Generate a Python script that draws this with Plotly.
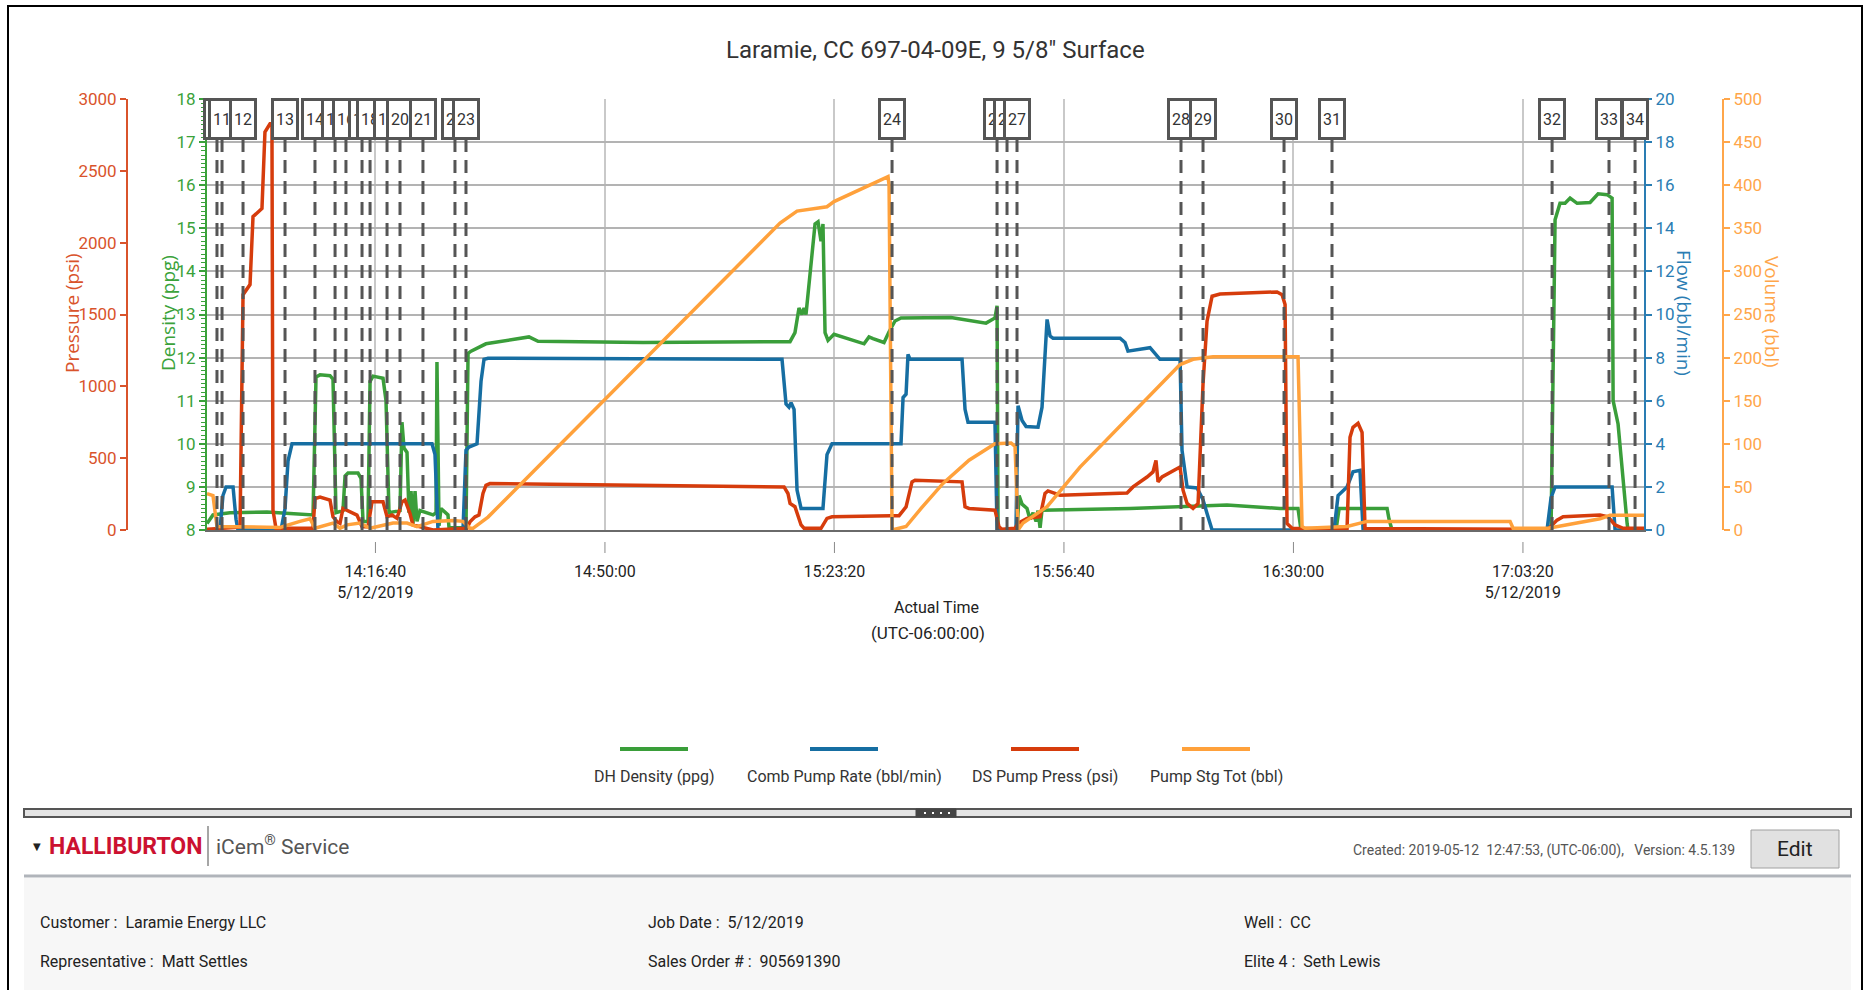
import plotly.graph_objects as go
import pandas as pd

DATE = "2019-05-12 "

# ---------------- data ----------------
density_t = ["13:52:12","13:53:04","13:55:32","14:00:55","14:04:15","14:07:10","14:07:36","14:08:02","14:08:37","14:10:04",
             "14:10:30","14:10:56","14:11:57","14:12:15","14:12:41","14:14:08","14:14:34","14:14:52","14:15:35","14:15:53",
             "14:16:19","14:17:46","14:18:12","14:18:38","14:20:14","14:20:31","14:20:49","14:21:15","14:21:32","14:21:50",
             "14:22:07","14:22:25","14:22:42","14:23:08","14:25:02","14:25:28","14:25:36","14:25:54","14:26:11","14:27:12",
             "14:27:21","14:29:49","14:30:07","14:30:33","14:32:43","14:38:58","14:40:17","14:55:32","15:16:53","15:17:36",
             "15:18:11","15:18:37","15:18:55","15:19:12","15:19:47","15:20:31","15:20:57","15:21:06","15:21:23","15:21:40",
             "15:21:58","15:22:24","15:23:16","15:27:38","15:28:21","15:28:56","15:30:32","15:31:16","15:32:08","15:33:00",
             "15:40:16","15:45:21","15:46:39","15:46:57","15:47:06","15:49:51","15:50:09","15:50:35","15:51:18","15:51:44",
             "15:52:11","15:52:37","15:52:54","15:53:12","15:53:29","16:06:16","16:20:21","16:28:03","16:30:40","16:31:06",
             "16:36:11","16:36:38","16:43:36","16:43:53","16:44:19","17:07:25","17:08:00","17:08:43","17:09:27","17:10:11",
             "17:11:12","17:13:05","17:14:15","17:15:33","17:16:17","17:16:26","17:17:09","17:18:28","17:18:36","17:20:56"]
density_v = [8.15,8.35,8.40,8.42,8.38,8.35,8.35,11.55,11.60,11.58,
             11.50,8.40,8.45,9.25,9.32,9.32,9.20,8.20,8.20,11.45,
             11.57,11.52,11.00,8.40,8.45,10.50,9.90,9.80,8.40,8.90,
             8.15,8.90,8.20,8.45,8.35,8.40,11.90,8.10,8.50,8.35,
             8.05,8.05,12.10,12.15,12.32,12.48,12.38,12.35,12.37,12.58,
             13.15,13.00,13.15,13.00,14.00,15.10,15.15,15.00,14.70,15.10,
             12.58,12.40,12.54,12.32,12.48,12.44,12.35,12.60,12.85,12.92,
             12.93,12.80,12.92,13.20,8.00,8.00,8.80,8.60,8.50,8.25,
             8.40,8.20,8.45,8.05,8.46,8.50,8.58,8.50,8.50,8.00,
             8.00,8.50,8.50,8.25,8.00,8.00,15.20,15.58,15.58,15.70,
             15.58,15.60,15.80,15.78,15.70,11.00,10.46,8.15,8.00,8.00]

rate_t = ["13:52:12","13:54:05","13:54:31","13:54:58","13:55:59","13:56:25","13:56:42","14:02:57","14:03:32","14:03:58",
          "14:04:33","14:24:53","14:25:19","14:25:45","14:29:23","14:29:49","14:30:15","14:31:25","14:32:00","14:32:26",
          "14:33:01","15:15:43","15:16:18","15:16:44","15:17:02","15:17:28","15:17:54","15:18:29","15:21:40","15:22:15",
          "15:22:59","15:33:00","15:33:18","15:33:44","15:34:01","15:34:19","15:41:52","15:42:18","15:42:44","15:46:39",
          "15:46:57","15:49:42","15:50:00","15:50:35","15:51:10","15:52:54","15:53:29","15:54:13","15:54:39","15:55:05",
          "16:04:49","16:05:32","16:05:58","16:09:10","16:10:37","16:13:32","16:13:49","16:14:33","16:16:00","16:16:52",
          "16:17:27","16:18:11","16:35:54","16:36:29","16:37:47","16:38:39","16:39:40","16:40:07","17:06:50","17:07:25",
          "17:08:00","17:16:17","17:16:43","17:20:56"]
rate_v = [0,0,1.6,2.0,2.0,0.5,0,0,1.0,3.2,
          4.0,4.0,3.5,0,0,3.7,3.85,4.0,6.9,7.92,
          7.97,7.92,5.85,5.70,5.90,5.60,1.85,1.00,1.00,3.50,
          4.00,4.00,6.15,6.30,8.15,7.92,7.92,5.60,5.00,5.00,
          0,0,5.77,5.08,4.80,4.77,5.70,9.77,9.00,8.90,
          8.90,8.70,8.30,8.46,7.92,7.92,3.70,2.00,1.95,1.40,
          0.77,0,0,1.60,2.00,2.70,2.77,0,0,1.50,
          2.00,2.00,0,0]

press_t = ["13:52:12","13:57:00","13:57:26","13:58:01","13:58:27","13:58:53","14:00:11","14:00:37","14:01:21","14:01:38",
           "14:01:47","14:02:13","14:07:36","14:07:53","14:08:37","14:10:04","14:10:30","14:11:05","14:11:31","14:11:57",
           "14:12:32","14:13:59","14:14:43","14:15:35","14:16:10","14:17:46","14:18:21","14:19:04","14:19:48","14:20:31",
           "14:20:58","14:21:41","14:22:07","14:25:02","14:29:58","14:30:24","14:31:08","14:31:42","14:32:17","14:32:43",
           "14:33:18","15:16:01","15:16:35","15:16:53","15:17:36","15:18:29","15:18:55","15:21:23","15:22:15","15:22:59",
           "15:31:33","15:32:43","15:33:44","15:34:36","15:35:02","15:41:52","15:42:18","15:42:53","15:46:39","15:47:14",
           "15:47:40","15:49:34","15:50:00","15:51:18","15:53:12","15:53:55","15:54:21","15:56:06","16:05:50","16:06:42",
           "16:08:44","16:09:36","16:10:02","16:10:20","16:10:55","16:13:32","16:13:58","16:14:33","16:15:25","16:16:09",
           "16:16:52","16:17:27","16:18:11","16:19:20","16:27:37","16:28:21","16:28:47","16:29:04","16:29:48","16:37:47",
           "16:38:13","16:38:39","16:39:23","16:39:58","16:40:24","17:06:59","17:08:17","17:09:10","17:14:32","17:15:42",
           "17:16:43","17:17:53","17:20:56"]
press_v = [5,20,1638,1685,1708,2181,2238,2770,2827,2827,
           138,12,12,219,230,208,92,58,46,150,
           138,104,23,23,196,196,92,104,81,196,
           208,115,35,0,12,58,92,104,254,311,
           323,300,254,185,162,35,12,12,81,92,
           100,100,161,335,346,335,161,150,138,23,
           5,12,46,81,92,254,272,242,258,300,
           369,404,485,335,369,438,277,185,150,185,
           1015,1454,1627,1643,1657,1638,1569,46,12,5,
           646,715,743,680,10,5,69,92,104,92,
           35,12,12]

vol_t = ["13:52:12","13:53:04","13:53:39","14:02:48","14:05:42","14:07:10","14:07:53","14:10:30","14:11:31","14:12:32",
         "14:14:25","14:15:53","14:19:13","14:21:15","14:22:42","14:25:02","14:27:56","14:29:23","14:30:24","14:30:50",
         "14:33:01","15:15:26","15:17:54","15:22:15","15:23:16","15:31:07","15:31:16","15:31:42","15:33:44","15:35:55",
         "15:39:06","15:42:53","15:46:39","15:48:59","15:49:34","15:50:00","15:50:43","15:54:13","15:59:00","16:13:32",
         "16:15:25","16:18:19","16:30:40","16:31:15","16:31:41","16:37:47","16:40:41","17:01:28","17:01:54","17:06:59",
         "17:14:32","17:15:59","17:20:56"]
vol_v = [42,40,4,3,10,13,2,8,2,6,
         8,2,8,8,4,10,11,10,2,2,
         15,356,370,375,381,410,400,0,4,25,
         54,81,100,101,97,0,8,27,73,192,
         198,201,201,4,2,4,10,10,2,2,
         13,17,17]

event_labels = [str(n) for n in range(10, 35)]
event_t = ["13:53:39","13:54:23","13:57:26","14:03:32","14:07:53","14:10:48","14:12:23","14:14:43","14:15:53","14:18:21",
           "14:20:14","14:23:34","14:28:13","14:29:49","15:31:42","15:46:57","15:48:24","15:49:51","16:13:40","16:16:52",
           "16:28:38","16:35:36","17:07:34","17:15:50","17:19:37"]

tick_t = ["14:16:40","14:50:00","15:23:20","15:56:40","16:30:00","17:03:20"]
tick_text = ["14:16:40<br>5/12/2019","14:50:00","15:23:20","15:56:40","16:30:00","17:03:20<br>5/12/2019"]

series_names = ["DH Density (ppg)", "Comb Pump Rate (bbl/min)", "DS Pump Press (psi)", "Pump Stg Tot (bbl)"]

# ---------------- styling ----------------
NARROW = "Liberation Sans Narrow, Arial Narrow, Roboto, sans-serif"
WIDE = "Open Sans, Noto Sans, sans-serif"
C_GREEN, C_BLUE, C_RED, C_ORANGE = "#3a9e3a", "#166ea2", "#d63c0c", "#ffa13b"
A_GREEN, A_BLUE, A_RED, A_ORANGE = "#3aa23a", "#2a7db3", "#d9532b", "#ffa64a"

# figure-pixel -> paper coordinates
ML, MR, MT, MB = 60, 100, 99, 460
W, H = 1872, 990
PW, PH = W - ML - MR, H - MT - MB
def px(X):
    return (X - ML) / PW
def py(Y):
    return (H - MB - Y) / PH

def ts(t):
    return pd.to_datetime([DATE + s for s in t])

def note(X, Y, text, size, color, family=None, xanchor="center", yanchor="middle", **kw):
    d = dict(x=px(X), y=py(Y), xref="paper", yref="paper", text=text, showarrow=False,
             xanchor=xanchor, yanchor=yanchor, font=dict(family=family or NARROW, size=size, color=color))
    d.update(kw)
    return d

fig = go.Figure()
fig.add_trace(go.Scatter(x=ts(density_t), y=density_v, name=series_names[0], mode="lines",
                         line=dict(color=C_GREEN, width=3.5), yaxis="y"))
fig.add_trace(go.Scatter(x=ts(rate_t), y=rate_v, name=series_names[1], mode="lines",
                         line=dict(color=C_BLUE, width=3.5), yaxis="y2"))
fig.add_trace(go.Scatter(x=ts(press_t), y=press_v, name=series_names[2], mode="lines",
                         line=dict(color=C_RED, width=3.5), yaxis="y3"))
fig.add_trace(go.Scatter(x=ts(vol_t), y=vol_v, name=series_names[3], mode="lines",
                         line=dict(color=C_ORANGE, width=3.5), yaxis="y4"))

shapes = []
annotations = []

# event markers: dashed lines + boxed labels
box_bottom = py(140)
for lab, t in zip(event_labels, event_t):
    shapes.append(dict(type="line", xref="x", yref="paper", x0=DATE + t, x1=DATE + t, y0=0, y1=box_bottom,
                       line=dict(color="#555555", width=3, dash="13px,8px"), layer="above"))
for lab, t in zip(event_labels, event_t):
    annotations.append(dict(x=DATE + t, y=py(119), xref="x", yref="paper", text=lab, showarrow=False,
                            xanchor="center", yanchor="middle",
                            bgcolor="white", bordercolor="#555555", borderwidth=3, borderpad=0,
                            width=22, height=36, font=dict(family=NARROW, size=16, color="#333333")))

# x tick marks (detached from axis like the reference)
for t in tick_t:
    shapes.append(dict(type="line", xref="x", yref="paper", x0=DATE + t, x1=DATE + t, y0=py(542), y1=py(553),
                       line=dict(color="#8a8a8a", width=1)))

# axis titles
annotations += [
    note(72, 313, "Pressure (psi)", 19, A_RED, WIDE, textangle=-90),
    note(168, 313, "Density (ppg)", 19, A_GREEN, WIDE, textangle=-90),
    note(1684, 313, "Flow (bbl/min)", 19, A_BLUE, WIDE, textangle=90),
    note(1772, 312, "Volume (bbl)", 19, A_ORANGE, WIDE, textangle=90),
    note(936, 607, "Actual Time", 16, "#222222"),
    note(928, 633, "(UTC-06:00:00)", 17, "#222222"),
]

# custom legend (line sample above label)
leg = [(654, C_GREEN), (844, C_BLUE), (1045, C_RED), (1216, C_ORANGE)]
for (cx, col), name in zip(leg, series_names):
    shapes.append(dict(type="line", xref="paper", yref="paper", x0=px(cx - 34), x1=px(cx + 34), y0=py(749), y1=py(749),
                       line=dict(color=col, width=4)))
    annotations.append(note(cx, 776, name, 16, "#333333"))

# outer frame
shapes.append(dict(type="rect", xref="paper", yref="paper", x0=px(8), x1=px(1862), y0=py(6), y1=py(1005),
                   line=dict(color="black", width=2), fillcolor="rgba(0,0,0,0)"))
# splitter bar
shapes.append(dict(type="rect", xref="paper", yref="paper", x0=px(24), x1=px(1851), y0=py(809), y1=py(817),
                   line=dict(color="#555555", width=2), fillcolor="#e4e4e4"))
shapes.append(dict(type="rect", xref="paper", yref="paper", x0=px(916), x1=px(956), y0=py(809), y1=py(817),
                   line=dict(color="#444444", width=1), fillcolor="#444444"))
for dx in (924, 932, 940, 948):
    shapes.append(dict(type="rect", xref="paper", yref="paper", x0=px(dx), x1=px(dx + 2), y0=py(812), y1=py(814),
                       line=dict(width=0), fillcolor="white"))
# header row
annotations += [
    note(37, 846, "▼", 10, "#222222", "DejaVu Sans"),
    note(47, 846, "<b>HALLIBURTON</b>", 23, "#cc1130", xanchor="left"),
    note(214, 845, "iCem<sup>®</sup> Service", 21, "#555555", xanchor="left"),
    note(1737, 850, "Created: 2019-05-12\u00a0 12:47:53, (UTC-06:00),\u00a0\u00a0 Version: 4.5.139", 14, "#555555",
         xanchor="right"),
    note(1795, 849, "Edit", 21, "#222222"),
]
shapes.append(dict(type="line", xref="paper", yref="paper", x0=px(208), x1=px(208), y0=py(826), y1=py(866),
                   line=dict(color="#888888", width=1.5)))
shapes.append(dict(type="rect", xref="paper", yref="paper", x0=px(1751), x1=px(1839), y0=py(830), y1=py(868),
                   line=dict(color="#a0a0a0", width=1), fillcolor="#e1e1e1", layer="below"))
# info panel
shapes.append(dict(type="rect", xref="paper", yref="paper", x0=px(24), x1=px(1851), y0=py(878), y1=py(1005),
                   line=dict(width=0), fillcolor="#f7f7f7", layer="below"))
shapes.append(dict(type="line", xref="paper", yref="paper", x0=px(24), x1=px(1851), y0=py(876), y1=py(876),
                   line=dict(color="#b0b4ba", width=3)))
info = [(38, 922, "Customer :\u00a0 Laramie Energy LLC"), (38, 961, "Representative :\u00a0 Matt Settles"),
        (646, 922, "Job Date :\u00a0 5/12/2019"), (646, 961, "Sales Order # :\u00a0 905691390"),
        (1242, 922, "Well :\u00a0 CC"), (1242, 961, "Elite 4 :\u00a0 Seth Lewis")]
for X, Y, txt in info:
    annotations.append(note(X, Y, txt, 16, "#222222", xanchor="left"))

annotations.append(note(935, 50, 'Laramie, CC 697-04-09E, 9 5/8" Surface', 24, "#333333"))

tickfont = lambda c: dict(family=NARROW, size=17, color=c)
fig.update_layout(
    width=W, height=H, margin=dict(l=ML, r=MR, t=MT, b=MB),
    paper_bgcolor="white", plot_bgcolor="white", showlegend=False,
    xaxis=dict(domain=[px(207), px(1644)], type="date",
               range=[DATE + "13:52:12", DATE + "17:20:55"],
               tickmode="array", tickvals=[DATE + t for t in tick_t], ticktext=tick_text,
               showgrid=True, gridcolor="#c9c9c9", gridwidth=1.5, zeroline=False,
               showline=True, linecolor="#6a6a6a", linewidth=2,
               ticks="outside", ticklen=26, tickcolor="rgba(0,0,0,0)",
               tickfont=dict(family=NARROW, size=16, color="#222222")),
    yaxis=dict(range=[8, 18], tick0=8, dtick=1, color=A_GREEN, showline=True, linecolor=A_GREEN, linewidth=2,
               ticks="outside", ticklen=6, tickwidth=2, tickcolor=A_GREEN, tickfont=tickfont(A_GREEN),
               minor=dict(ticks="outside", dtick=0.1, ticklen=4, tickwidth=1, tickcolor=A_GREEN, showgrid=False),
               showgrid=True, gridcolor="#b3b3b3", gridwidth=2, zeroline=False),
    yaxis2=dict(range=[0, 20], dtick=2, overlaying="y", side="right", anchor="x", showgrid=False, zeroline=False,
                showline=True, linecolor=A_BLUE, linewidth=2, ticks="outside", ticklen=6, tickwidth=2,
                tickcolor=A_BLUE, tickfont=tickfont(A_BLUE)),
    yaxis3=dict(range=[0, 3000], dtick=500, overlaying="y", side="left", anchor="free", position=px(127),
                showgrid=False, zeroline=False, showline=True, linecolor=A_RED, linewidth=2,
                ticks="outside", ticklen=6, tickwidth=2, tickcolor=A_RED, tickfont=tickfont(A_RED)),
    yaxis4=dict(range=[0, 500], dtick=50, overlaying="y", side="right", anchor="free", position=px(1723),
                showgrid=False, zeroline=False, showline=True, linecolor=A_ORANGE, linewidth=2,
                ticks="outside", ticklen=6, tickwidth=2, tickcolor=A_ORANGE, tickfont=tickfont(A_ORANGE)),
    shapes=shapes, annotations=annotations,
)

fig.write_html("out.html", config={"displayModeBar": False},
               post_script="document.body.style.margin='0';document.body.style.overflow='hidden';")
